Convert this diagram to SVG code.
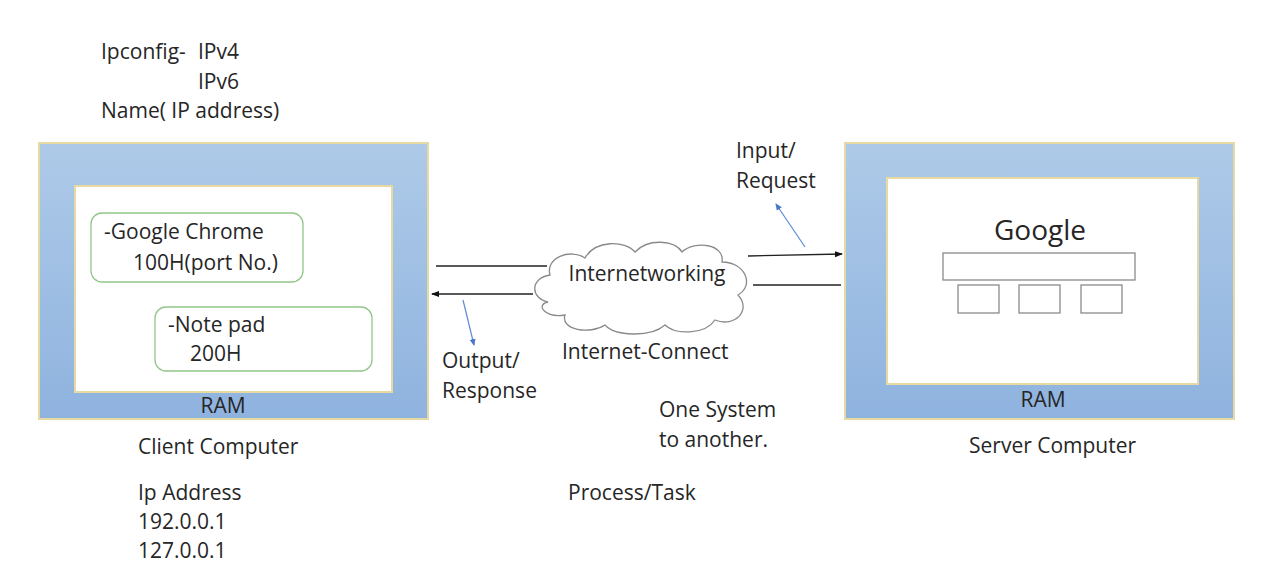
<svg xmlns="http://www.w3.org/2000/svg" width="1280" height="579" viewBox="0 0 1280 579">
<defs>
<linearGradient id="ram" x1="0" y1="0" x2="0" y2="1">
<stop offset="0" stop-color="#aecae8"/>
<stop offset="1" stop-color="#8fb3df"/>
</linearGradient>
<marker id="ab" markerWidth="8" markerHeight="8" refX="7" refY="4" orient="auto" markerUnits="userSpaceOnUse">
<path d="M0,1 L8,4 L0,7 Z" fill="#111"/>
</marker>
<marker id="abl" markerWidth="7" markerHeight="7" refX="6" refY="3.5" orient="auto" markerUnits="userSpaceOnUse">
<path d="M0,0.5 L7,3.5 L0,6.5 Z" fill="#4a78c8"/>
</marker>
<style>
text{font-family:"Open Sans",Lato,"Liberation Sans",sans-serif;font-size:21px;fill:#262626}
.outer{fill:url(#ram);stroke:#e6d9a2;stroke-width:2}
.inner{fill:#fff;stroke:#e6d9a2;stroke-width:2}
.app{fill:#fff;stroke:#93c68a;stroke-width:1.3}
.gray{fill:#fff;stroke:#8a8a8a;stroke-width:1.3}
.line{stroke:#222;stroke-width:1.3;fill:none}
.blue{stroke:#5b8bd6;stroke-width:1.2;fill:none}
</style>
</defs>
<rect width="1280" height="579" fill="#fff"/>

<g id="notes">
<text x="101" y="59">Ipconfig-</text>
<text x="198" y="59">IPv4</text>
<text x="198" y="89">IPv6</text>
<text x="101" y="118">Name( IP address)</text>
</g>

<g id="client">
<rect class="outer" x="39" y="143" width="389" height="276"/>
<rect class="inner" x="75" y="186" width="317" height="206"/>
<text x="223" y="413" text-anchor="middle">RAM</text>
<text x="138" y="454">Client Computer</text>
</g>
<g id="chrome">
<rect class="app" x="91" y="213" width="212" height="69" rx="11"/>
<text x="104" y="239">-Google Chrome</text>
<text x="133" y="270">100H(port No.)</text>
</g>
<g id="notepad">
<rect class="app" x="155" y="307" width="217" height="64" rx="11"/>
<text x="168" y="332">-Note pad</text>
<text x="190" y="361">200H</text>
</g>
<g id="client-ip">
<text x="138" y="500">Ip Address</text>
<text x="138" y="529">192.0.0.1</text>
<text x="138" y="558">127.0.0.1</text>
</g>

<g id="cloud">
<path class="gray" d="M548,302 C530,298 530,278 550,275 C545,258 570,248 585,258 C595,240 625,240 635,252 C648,238 675,240 682,252 C695,240 725,244 722,262 C745,262 755,285 738,295 C752,310 735,328 715,320 C705,335 675,335 665,325 C650,338 615,336 605,325 C590,335 560,330 565,315 C545,318 535,305 548,302 Z" stroke="#9a9a9a"/>
<text x="647" y="281" text-anchor="middle">Internetworking</text>
<text x="562" y="359">Internet-Connect</text>
</g>

<g id="server">
<rect class="outer" x="845" y="143" width="389" height="276"/>
<rect class="inner" x="887" y="178" width="311" height="206"/>
<text x="1040" y="240" text-anchor="middle" style="font-size:28px">Google</text>
<rect class="gray" x="943" y="253" width="192" height="27"/>
<rect class="gray" x="958" y="285" width="41" height="28"/>
<rect class="gray" x="1019" y="285" width="41" height="28"/>
<rect class="gray" x="1081" y="285" width="41" height="28"/>
<text x="1043" y="407" text-anchor="middle">RAM</text>
<text x="969" y="453">Server Computer</text>
</g>

<g id="labels">
<text x="442" y="368">Output/</text>
<text x="442" y="398">Response</text>
<text x="736" y="158">Input/</text>
<text x="736" y="188">Request</text>
<text x="659" y="417">One System</text>
<text x="659" y="447">to another.</text>
<text x="568" y="500">Process/Task</text>
</g>

<g id="connectors">
<line class="line" x1="436" y1="266" x2="547" y2="266"/>
<line class="line" x1="533" y1="294" x2="432" y2="294" marker-end="url(#ab)"/>
<line class="line" x1="748" y1="256" x2="842" y2="254" marker-end="url(#ab)"/>
<line class="line" x1="753" y1="285" x2="841" y2="285"/>
<line class="blue" x1="463" y1="300" x2="474" y2="345" marker-end="url(#abl)"/>
<line class="blue" x1="805" y1="247" x2="776" y2="204" marker-end="url(#abl)"/>
</g>
</svg>
